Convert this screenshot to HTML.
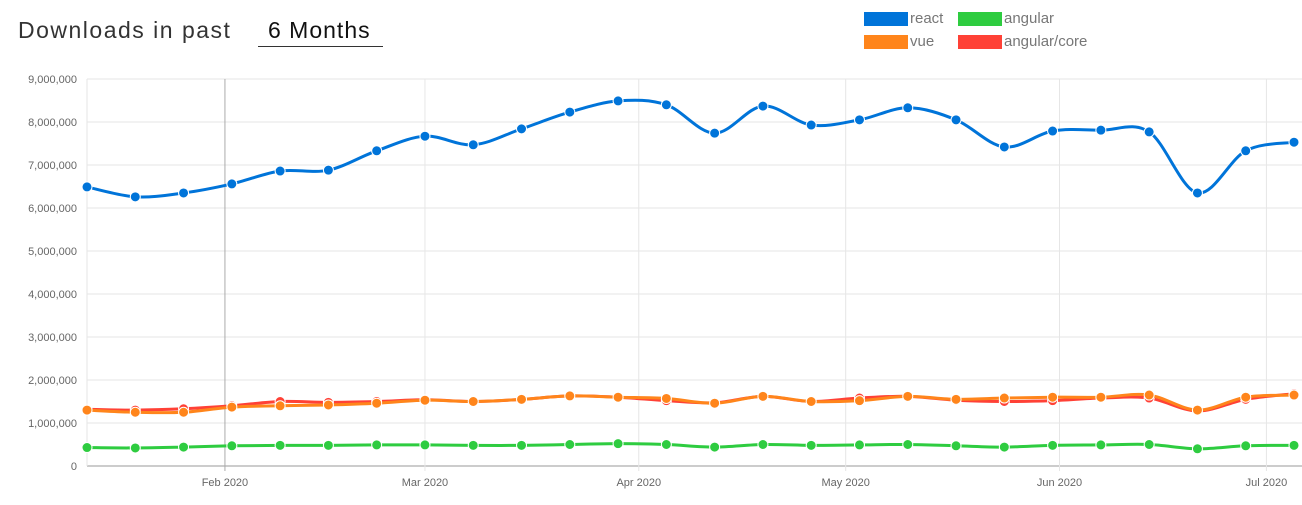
<!DOCTYPE html>
<html><head><meta charset="utf-8"><style>
body{margin:0;width:1302px;height:505px;background:#fff;font-family:"Liberation Sans",sans-serif;overflow:hidden;position:relative}
.title{position:absolute;left:18px;top:17px;font-size:23px;letter-spacing:1.5px;color:#333}
.sel{position:absolute;left:258px;top:17px;width:125px;border-bottom:1px solid #333;font-size:23px;letter-spacing:1px;color:#111;padding-left:10px;box-sizing:border-box;height:30px}
.leg{position:absolute;font-size:15px;color:#777;display:flex;align-items:center}
.leg span{display:inline-block;width:44px;height:14px;margin-right:2px}
</style></head><body>
<div class="title">Downloads in past</div>
<div class="sel">6 Months</div>
<div class="leg" style="left:864px;top:10px"><span style="background:#0074d9"></span>react</div>
<div class="leg" style="left:958px;top:10px"><span style="background:#2ecc40"></span>angular</div>
<div class="leg" style="left:864px;top:33px"><span style="background:#ff851b"></span>vue</div>
<div class="leg" style="left:958px;top:33px"><span style="background:#ff4136"></span>angular/core</div>
<svg id="c" width="1302" height="505" style="position:absolute;left:0;top:0"></svg>
<script>
const startDate = [2020,0,12];
const yTicks = [0,1000000,2000000,3000000,4000000,5000000,6000000,7000000,8000000,9000000];
const monthLabels = ["Feb 2020","Mar 2020","Apr 2020","May 2020","Jun 2020","Jul 2020"];
const monthDates = [[2020,1,1],[2020,2,1],[2020,3,1],[2020,4,1],[2020,5,1],[2020,6,1]];
const react = [6.49,6.26,6.35,6.56,6.86,6.88,7.33,7.67,7.47,7.84,8.23,8.49,8.40,7.74,8.37,7.93,8.05,8.33,8.05,7.42,7.79,7.81,7.77,6.35,7.33,7.53];
const vue = [1.30,1.25,1.25,1.37,1.40,1.42,1.46,1.53,1.50,1.55,1.63,1.60,1.57,1.46,1.62,1.50,1.52,1.62,1.55,1.58,1.60,1.60,1.65,1.30,1.60,1.65];
const angularCore = [1.32,1.30,1.33,1.40,1.50,1.48,1.50,1.54,1.50,1.55,1.63,1.60,1.52,1.47,1.62,1.50,1.58,1.62,1.53,1.50,1.52,1.58,1.58,1.28,1.55,1.68];
const angular = [0.43,0.42,0.44,0.47,0.48,0.48,0.49,0.49,0.48,0.48,0.50,0.52,0.50,0.44,0.50,0.48,0.49,0.50,0.47,0.44,0.48,0.49,0.50,0.40,0.47,0.48];
const series=[["angular",angular,"#2ecc40"],["angular-core",angularCore,"#ff4136"],["vue",vue,"#ff851b"],["react",react,"#0074d9"]];
const X0=87,X1=1294,Y0=466,Y1=79,NS="http://www.w3.org/2000/svg",svg=document.getElementById('c');
const t0=Date.UTC(...startDate),DAY=86400000,span=(react.length-1)*7;
const xd=d=>X0+(X1-X0)*((Date.UTC(...d)-t0)/DAY)/span;
const xi=i=>X0+(X1-X0)*(i*7)/span;
const y=v=>Y0-(Y0-Y1)*v/9000000;
function mk(tag,a){const e=document.createElementNS(NS,tag);for(const k in a)e.setAttribute(k,a[k]);svg.appendChild(e);return e;}
yTicks.forEach(v=>{
 const l=mk('line',{x1:X0,x2:1302,y1:y(v),y2:y(v),stroke:v?'#e6e6e6':'#999'});
 
 
 const t=mk('text',{x:77,y:y(v)+4,'text-anchor':'end','font-size':11,fill:'#666','font-family':'Liberation Sans'});
 t.textContent=v.toLocaleString('en-US');
 
 
});
mk('line',{x1:X0,x2:X0,y1:Y1,y2:Y0,stroke:'#e6e6e6'});
monthDates.forEach((d,i)=>{
 const x=xd(d);
 const l=mk('line',{x1:x,x2:x,y1:Y1,y2:Y0+5,stroke:i==0?'#aaa':'#e6e6e6'});
 
 
 const t=mk('text',{x:x,y:486,'text-anchor':'middle','font-size':11,fill:'#666','font-family':'Liberation Sans'});
 t.textContent=monthLabels[i];
 
 
});
series.forEach(([name,vals,col])=>{
 const p=vals.map((v,i)=>[xi(i),y(v*1e6)]);
 let d='M'+p[0];
 for(let i=0;i<p.length-1;i++){
  const a=p[i-1]||p[i],b=p[i],c=p[i+1],e=p[i+2]||c,k=6;
  d+=`C${b[0]+(c[0]-a[0])/k},${b[1]+(c[1]-a[1])/k} ${c[0]-(e[0]-b[0])/k},${c[1]-(e[1]-b[1])/k} ${c[0]},${c[1]}`;
 }
 const path=mk('path',{d:d,fill:'none',stroke:col,'stroke-width':3});
 
 
 p.forEach(q=>{
  const c=mk('circle',{cx:q[0],cy:q[1],r:5,fill:col,stroke:'#fff','stroke-width':1});
  
  
 });
});
</script>
</body></html>
